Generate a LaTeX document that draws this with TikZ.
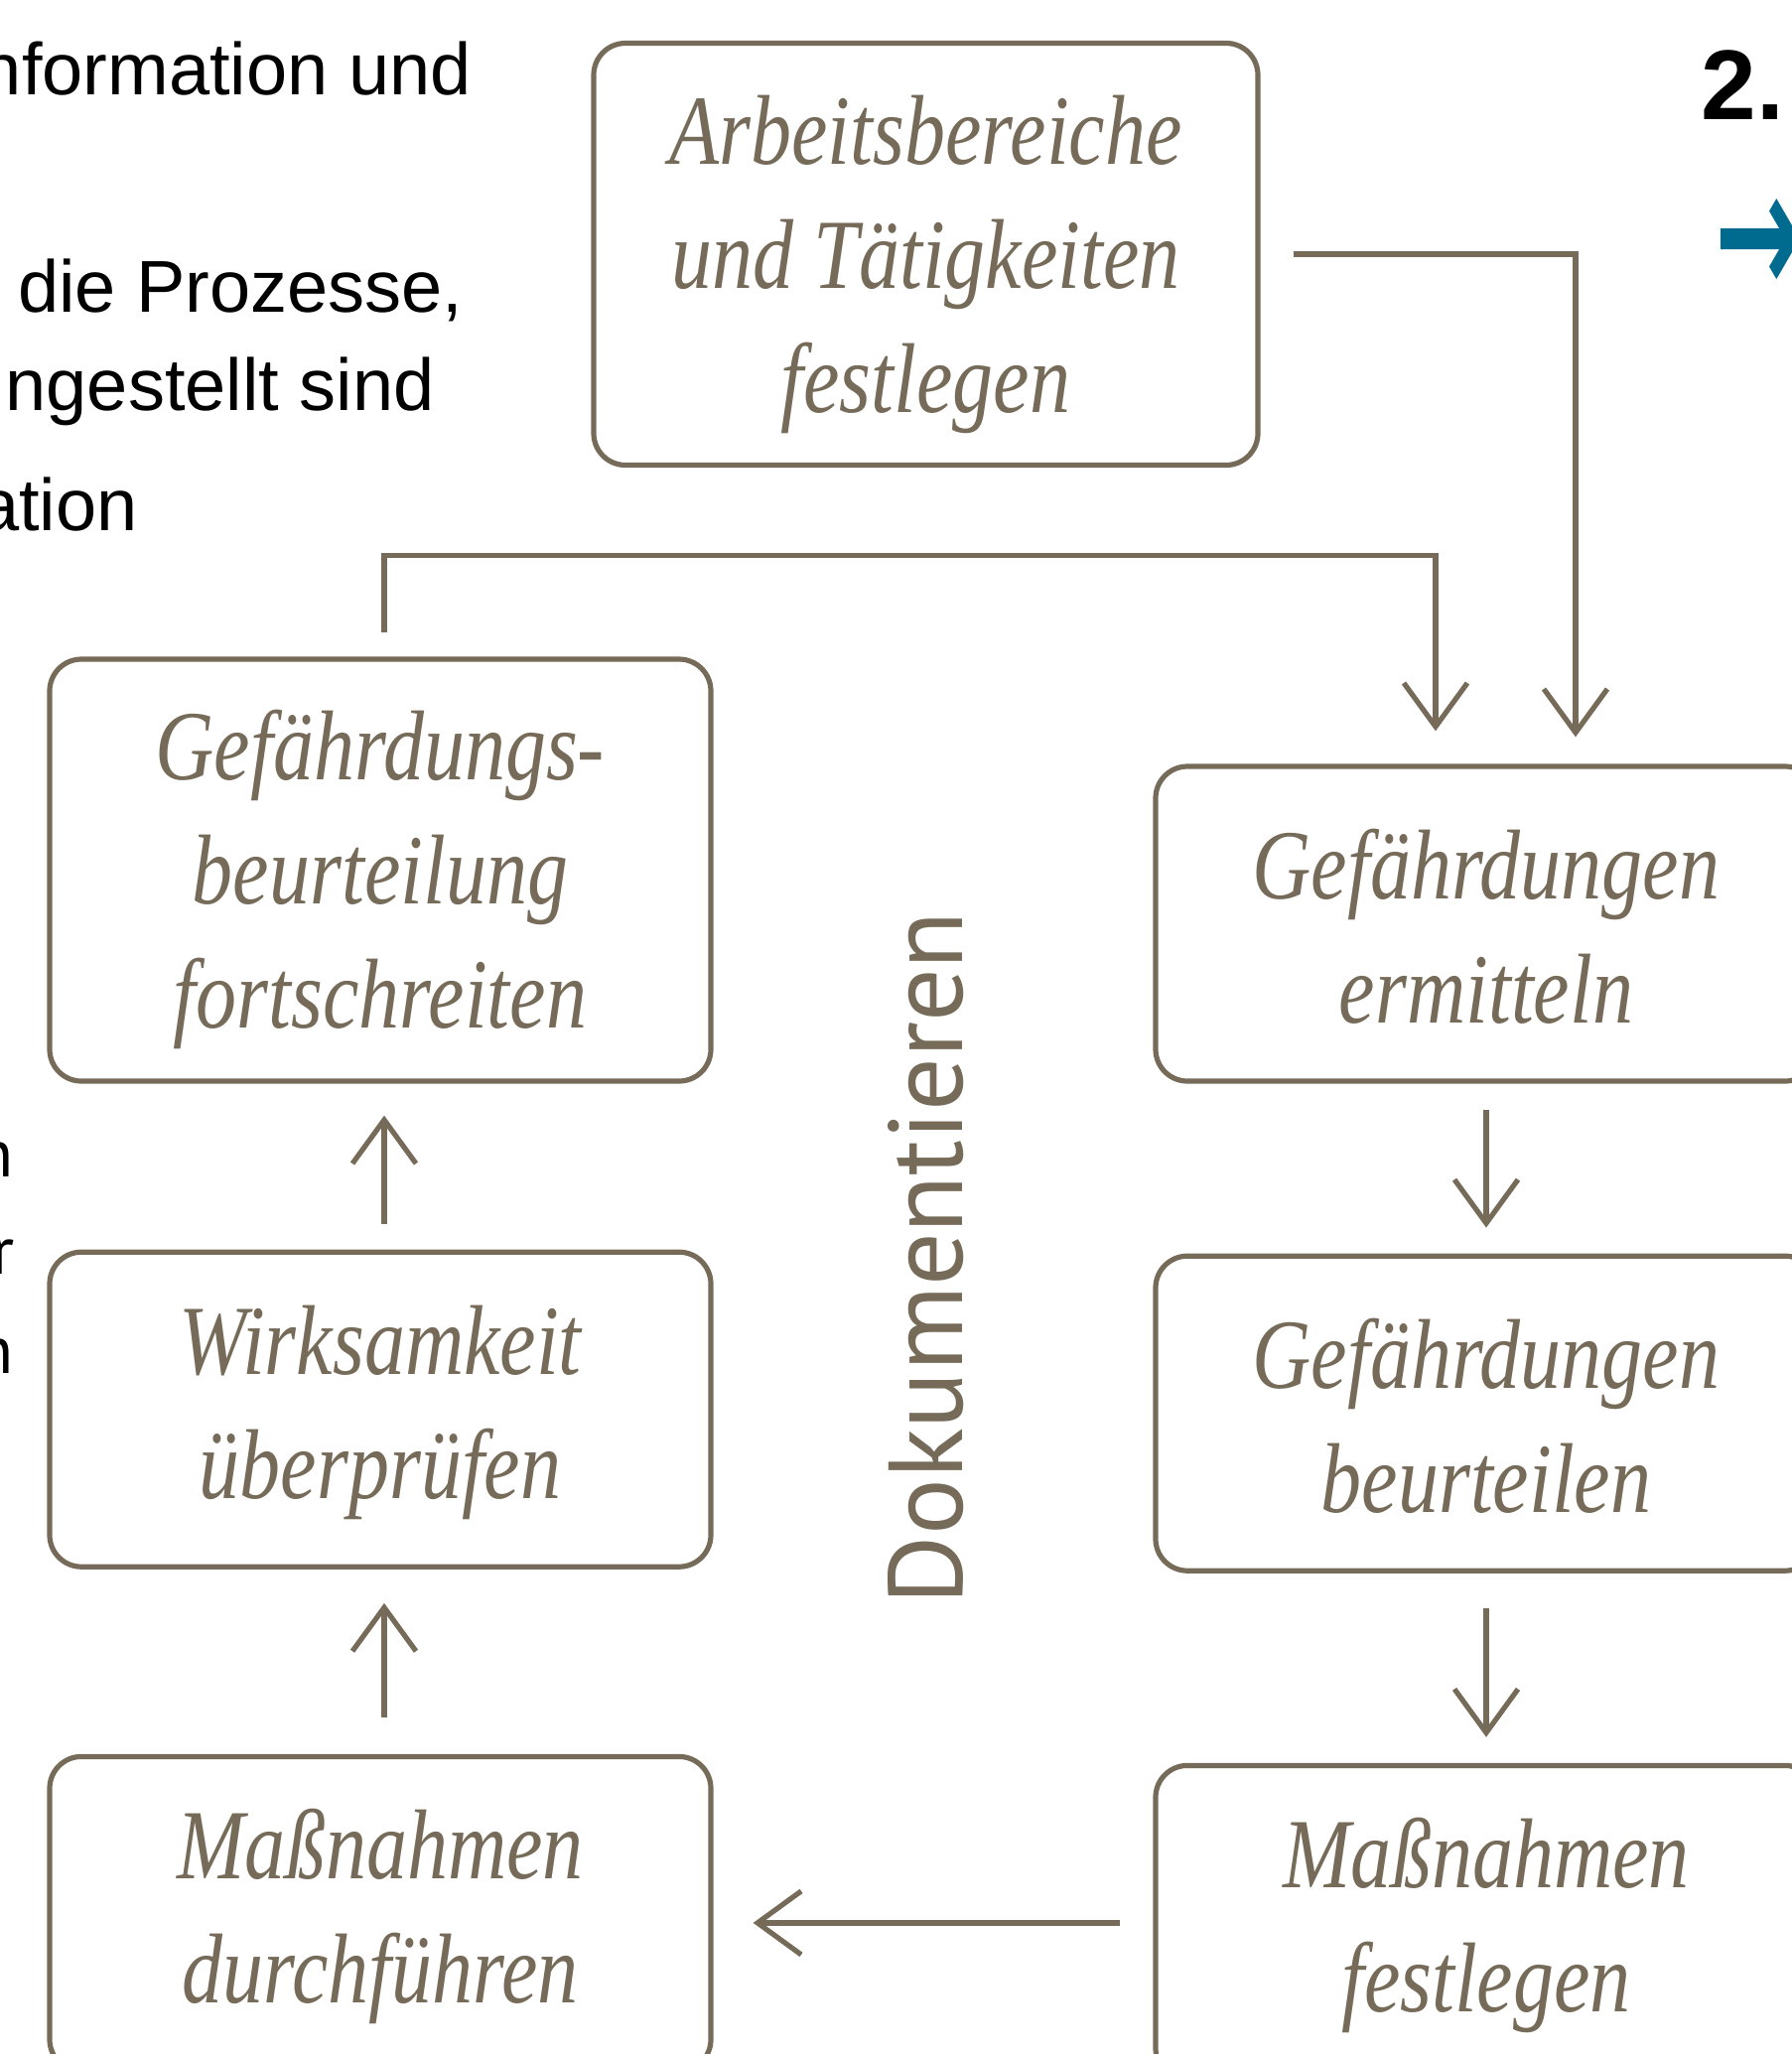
\documentclass[tikz,border=0pt]{standalone}
\usepackage{fontspec}
\setmainfont{Liberation Serif}
\newfontfamily\boxfont[FakeStretch=0.82]{Liberation Serif}
\newfontfamily\docfont{PT Sans}
\newfontfamily\slidefont{Liberation Sans}
\newfontfamily\arrowfont{DejaVu Sans}
\newcommand{\tallgap}{\rule{0pt}{45pt}}
\newcommand{\flatgap}{\rule{0pt}{38pt}}
\usetikzlibrary{arrows.meta,positioning}
\definecolor{ink}{RGB}{118,107,89}
\definecolor{slideblue}{RGB}{0,106,143}

\begin{document}
\begin{tikzpicture}[
x=0.5pt, y=-0.5pt,
box/.style={
    draw=ink, line width=2.6pt, rounded corners=16pt,
    minimum width=333pt, inner sep=0pt, align=center, text=ink,
    font=\boxfont\itshape\fontsize{50}{62.5}\selectfont},
tall/.style={box, minimum height=212.5pt},
flat/.style={box, minimum height=158.5pt},
conn/.style={draw=ink, line width=2.6pt, -{Straight Barb[length=22pt,width=32pt]}},
slide/.style={anchor=base east, inner sep=0pt, font=\slidefont\fontsize{37}{44}\selectfont},
frag/.style={anchor=base east, inner sep=0pt, font=\docfont\fontsize{34}{40}\selectfont},
]

\useasboundingbox (0,0) rectangle (1805,2069);
\clip (0,0) rectangle (1805,2069);

\node[slide] (line1) at (475,95) {nformation und};
\node[slide] (line2) at (467,314) {die Prozesse,};
\node[slide] (line3) at (438,413) {ngestellt sind};
\node[slide] (line4) at (139,534) {ation};
\node[frag] (frag1) at (14,1185) {n};
\node[frag] (frag2) at (15,1283) {r};
\node[frag] (frag3) at (14,1383) {n};
\node[anchor=base west, inner sep=0pt, font=\slidefont\bfseries\fontsize{50}{60}\selectfont] (step2) at (1713,120) {2.};
\node[anchor=west, inner sep=0pt, text=slideblue, font=\arrowfont\bfseries\fontsize{90}{95}\selectfont] (bullet) at (1727,249) {\scalebox{0.58}[1]{→}};

\node[tall, minimum width=334.5pt] (areas) at (932.5,256) {\tallgap Arbeitsbereiche\\und Tätigkeiten\\festlegen};
\node[tall] (progress) at (383,876.5) {\tallgap Gefährdungs-\\beurteilung\\fortschreiten};
\node[flat, below=83.5pt of progress] (check) {\flatgap Wirksamkeit\\überprüfen};
\node[flat, below=93pt of check] (execute) {\flatgap Maßnahmen\\durchführen};
\node[flat] (identify) at (1497,930.5) {\flatgap Gefährdungen\\ermitteln};
\node[flat, below=85.5pt of identify] (assess) {\flatgap Gefährdungen\\beurteilen};
\node[flat, below=95.5pt of assess] (define) {\flatgap Maßnahmen\\festlegen};

\node[rotate=90, anchor=base, inner sep=0pt, text=ink, font=\docfont\fontsize{53}{60}\selectfont] (doc) at (969,1267) {Dokumentieren};

\draw[conn] ([xshift=16.5pt]areas.east) -| ([xshift=45pt,yshift=13.5pt]identify.north);
\draw[conn] ([xshift=2pt,yshift=12pt]progress.north) -- ++(0,-78) -| ([xshift=-25.5pt,yshift=16.5pt]identify.north);
\draw[conn] ([yshift=-13pt]identify.south) -- ([yshift=13pt]assess.north);
\draw[conn] ([yshift=-17.5pt]assess.south) -- ([yshift=13pt]define.north);
\draw[conn] ([xshift=-16.5pt]define.west) -- ([xshift=20pt]execute.east |- define.west);
\draw[conn] ([xshift=2pt,yshift=18.5pt]execute.north) -- ([xshift=2pt,yshift=-17pt]check.south);
\draw[conn] ([xshift=2pt,yshift=13pt]check.north) -- ([xshift=2pt,yshift=-16pt]progress.south);

\end{tikzpicture}
\end{document}
